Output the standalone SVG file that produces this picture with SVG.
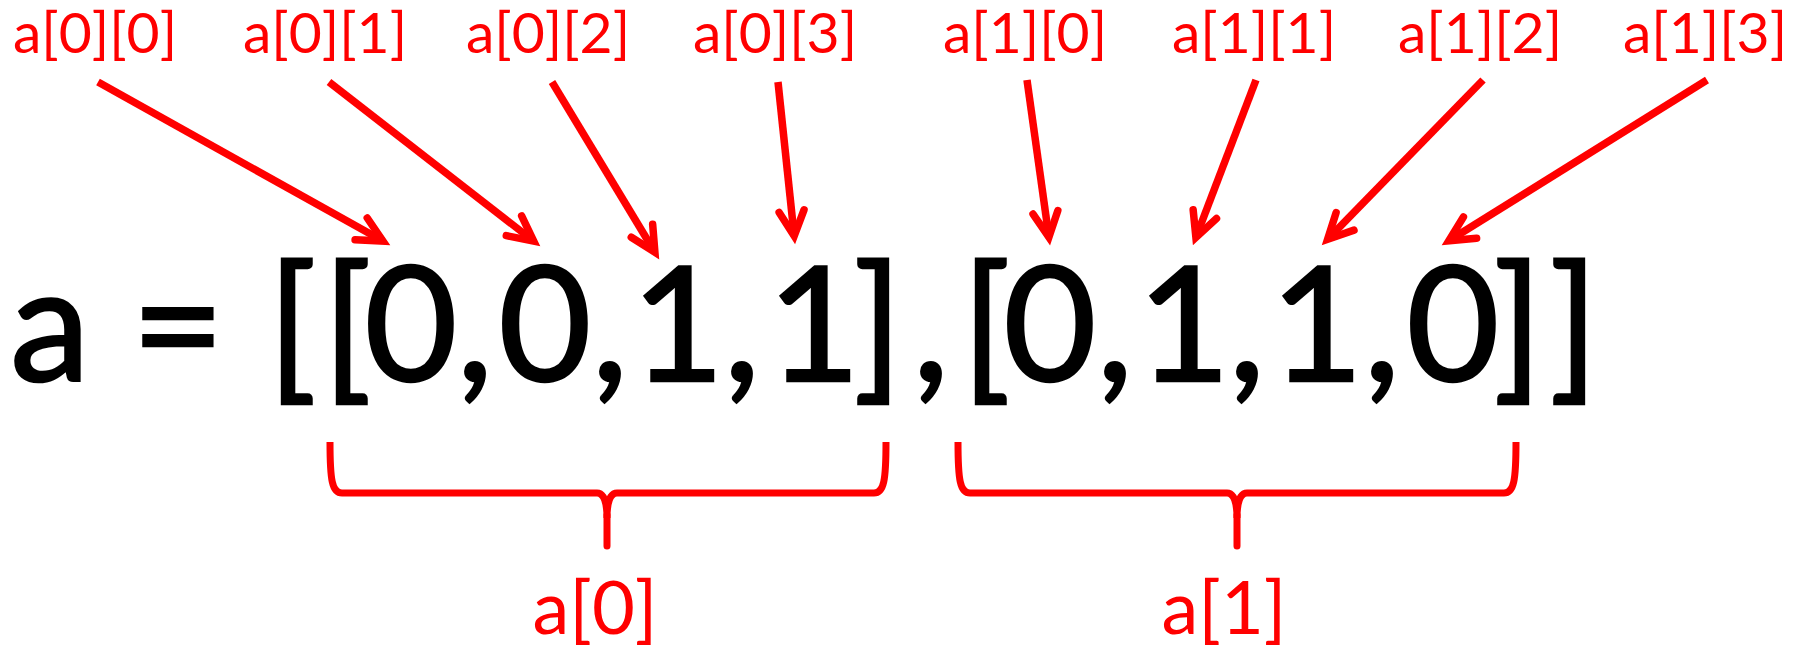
<svg xmlns="http://www.w3.org/2000/svg" width="1800" height="647" viewBox="0 0 1800 647">
<style>
.main{font-family:Lato,"Open Sans",sans-serif;font-size:160px;fill:#000;stroke:#000;stroke-width:2.5px;text-anchor:middle}
.lbl{font-family:Lato,"Open Sans",sans-serif;font-size:57px;fill:#f00;text-anchor:middle}
.lbl2{font-family:Lato,"Open Sans",sans-serif;font-size:74px;fill:#f00;text-anchor:middle}
.arr{stroke:#f00;stroke-width:7.5;fill:none;marker-end:url(#ah)}
.brace{stroke:#f00;stroke-width:7;fill:none;stroke-linejoin:round}
.stem{stroke:#f00;stroke-width:7;fill:none;stroke-linecap:round}
</style>
<defs>
<marker id="ah" markerUnits="userSpaceOnUse" orient="auto" refX="0" refY="0" markerWidth="80" markerHeight="80" viewBox="-40 -40 80 80" overflow="visible">
<path d="M-25,-12.5 L0,0 L-25,12.5" fill="none" stroke="#f00" stroke-width="7.5" stroke-linecap="round" stroke-linejoin="miter"/>
</marker>
</defs>
<rect width="1800" height="647" fill="#fff"/>
<g id="expression">
<text class="main" y="381"><tspan x="50">a</tspan><tspan x="178">=</tspan><tspan x="292">[</tspan><tspan x="347">[</tspan><tspan x="411">0</tspan><tspan x="475">,</tspan><tspan x="545">0</tspan><tspan x="610">,</tspan><tspan x="678">1</tspan><tspan x="742">,</tspan><tspan x="814">1</tspan><tspan x="878">]</tspan><tspan x="931">,</tspan><tspan x="986">[</tspan><tspan x="1050">0</tspan><tspan x="1115">,</tspan><tspan x="1184">1</tspan><tspan x="1247">,</tspan><tspan x="1317">1</tspan><tspan x="1382">,</tspan><tspan x="1453">0</tspan><tspan x="1518">]</tspan><tspan x="1574">]</tspan></text>
</g>
<g id="label-a00"><text class="lbl" x="95" y="53">a[0][0]</text></g>
<g id="label-a01"><text class="lbl" x="325" y="53">a[0][1]</text></g>
<g id="label-a02"><text class="lbl" x="548" y="53">a[0][2]</text></g>
<g id="label-a03"><text class="lbl" x="775" y="53">a[0][3]</text></g>
<g id="label-a10"><text class="lbl" x="1025" y="53">a[1][0]</text></g>
<g id="label-a11"><text class="lbl" x="1254" y="53">a[1][1]</text></g>
<g id="label-a12"><text class="lbl" x="1480" y="53">a[1][2]</text></g>
<g id="label-a13"><text class="lbl" x="1705" y="53">a[1][3]</text></g>
<g id="brace-a0">
<path class="brace" d="M330,442 C330,480 332,493 342,493 L597,493 C604,493 607,503 607,518 M607,518 C607,503 610,493 617,493 L874,493 C884,493 886,480 886,442"/>
<path class="stem" d="M607,515 L607,546"/>
<text class="lbl2" x="595" y="634">a[0]</text>
</g>
<g id="brace-a1">
<path class="brace" d="M958,442 C958,480 960,493 970,493 L1227,493 C1234,493 1237,503 1237,518 M1237,518 C1237,503 1240,493 1247,493 L1504,493 C1514,493 1516,480 1516,442"/>
<path class="stem" d="M1237,515 L1237,546"/>
<text class="lbl2" x="1224" y="634">a[1]</text>
</g>
<g id="connectors">
<line class="arr" x1="98" y1="82" x2="383" y2="241.1"/>
<line class="arr" x1="329" y1="82" x2="533.7" y2="241.1"/>
<line class="arr" x1="552" y1="82" x2="654.9" y2="252.2"/>
<line class="arr" x1="778" y1="82" x2="794.2" y2="236"/>
<line class="arr" x1="1027" y1="80" x2="1048.9" y2="237.1"/>
<line class="arr" x1="1256" y1="80" x2="1195.9" y2="237.5"/>
<line class="arr" x1="1483" y1="80" x2="1327.6" y2="239.3"/>
<line class="arr" x1="1707" y1="80" x2="1448.8" y2="240.8"/>
</g>
</svg>
